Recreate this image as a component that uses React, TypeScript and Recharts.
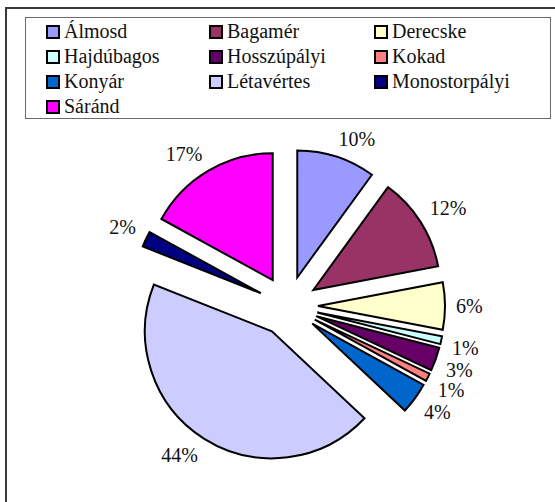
import React from 'react';
import { PieChart, Pie, Cell, Legend, Sector } from 'recharts';

const towns = ['Álmosd', 'Bagamér', 'Derecske', 'Hajdúbagos', 'Hosszúpályi', 'Kokad', 'Konyár', 'Létavértes', 'Monostorpályi', 'Sáránd'];
const shares = [10, 12, 6, 1, 3, 1, 4, 44, 2, 17];
const colors = ['#9999FF', '#993366', '#FFFFCC', '#CCFFFF', '#660066', '#FF8080', '#0066CC', '#CCCCFF', '#000080', '#FF00FF'];

const data = towns.map((name, i) => ({ name, value: shares[i] }));

const FONT = '"Liberation Serif"';
const FS = 20;
const EXPLODE = 30;
const RAD = Math.PI / 180;

const ExplodedSector = (props: any) => {
  const { cx, cy, midAngle } = props;
  const dx = EXPLODE * Math.cos(-midAngle * RAD);
  const dy = EXPLODE * Math.sin(-midAngle * RAD);
  return <Sector {...props} cx={cx + dx} cy={cy + dy} stroke="#000" strokeWidth={2} strokeLinejoin="miter" />;
};

const clamp = (v: number) => Math.max(-1, Math.min(1, v));

const renderLabel = (props: any) => {
  const { cx, cy, midAngle, outerRadius, percent } = props;
  const txt = `${Math.round(percent * 100)}%`;
  const w = ((txt.length - 1) * 0.5 + 0.833) * FS;
  const ux = Math.cos(-midAngle * RAD);
  const uy = Math.sin(-midAngle * RAD);
  const r = EXPLODE + outerRadius + 11;
  const x = cx + r * ux + (w / 2) * clamp(ux * 3);
  const y = cy + r * uy + 7.5 * clamp(uy * 3);
  return (
    <text x={x} y={y} textAnchor="middle" dominantBaseline="central" style={{ fontFamily: FONT }} fontSize={FS} fill="#111">
      {txt}
    </text>
  );
};

const colX = [20, 183, 348];

const LegendContent = () => {
  return (
    <div style={{ position: 'relative', width: 525, height: 100, fontFamily: FONT, fontSize: FS, color: '#111', lineHeight: '25px' }}>
      {towns.map((name, i) => {
        const col = i % 3;
        const row = Math.floor(i / 3);
        return (
          <div key={name} style={{ position: 'absolute', left: colX[col], top: 1 + row * 25, height: 25, display: 'flex', alignItems: 'center', whiteSpace: 'nowrap', fontFamily: FONT }}>
            <span style={{ display: 'inline-block', width: 10, height: 10, border: '2px solid #000', background: colors[i], marginRight: 4 }} />
            <span>{name}</span>
          </div>
        );
      })}
    </div>
  );
};

export default function App() {
  return (
    <div style={{ position: 'absolute', left: 0, top: 0, width: 555, height: 502, overflow: 'hidden', background: '#fff', fontFamily: FONT }}>
      <div style={{ position: 'absolute', left: 5, top: 7, width: 600, height: 600, borderLeft: '2px solid #3a3a3a', borderTop: '2px solid #3a3a3a' }} />
      <div style={{ position: 'absolute', left: 0, top: 0 }}>
        <PieChart width={555} height={502} margin={{ top: 0, right: 0, bottom: 0, left: 0 }} style={{ fontFamily: FONT }}>
          <Legend
            content={<LegendContent />}
            wrapperStyle={{ position: 'absolute', left: 25, top: 17, width: 526, height: 102, border: '1px solid #6a6a6a', boxSizing: 'border-box', background: '#fff', fontFamily: FONT }}
          />
          <Pie
            data={data}
            dataKey="value"
            nameKey="name"
            cx={288}
            cy={306}
            outerRadius={127}
            startAngle={90}
            endAngle={-270}
            isAnimationActive={false}
            shape={ExplodedSector}
            activeShape={ExplodedSector}
            inactiveShape={ExplodedSector}
            label={renderLabel}
            labelLine={false}
          >
            {data.map((d, i) => (
              <Cell key={d.name} fill={colors[i]} stroke="#000" strokeWidth={2} />
            ))}
          </Pie>
        </PieChart>
      </div>
    </div>
  );
}
